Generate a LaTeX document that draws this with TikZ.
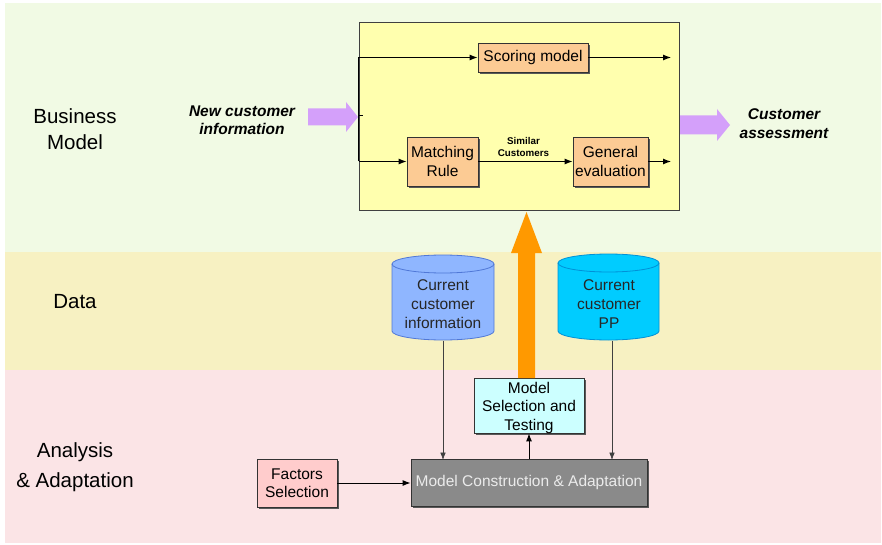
\documentclass[tikz,border=0pt]{standalone}
\usepackage{fontspec}
\setmainfont{Liberation Sans}
\usetikzlibrary{arrows.meta,shadows}

\definecolor{bandgreen}{RGB}{241,250,228}
\definecolor{bandyellow}{RGB}{247,241,194}
\definecolor{bandpink}{RGB}{251,228,230}
\definecolor{mainyellow}{RGB}{255,255,174}
\definecolor{procorange}{RGB}{252,203,148}
\definecolor{flowpurple}{RGB}{212,160,250}
\definecolor{feedorange}{RGB}{255,153,0}
\definecolor{cylblue}{RGB}{143,182,255}
\definecolor{cylblueline}{RGB}{80,120,215}
\definecolor{cylcyan}{RGB}{0,204,255}
\definecolor{cylcyanline}{RGB}{0,145,215}
\definecolor{selcyan}{RGB}{204,255,255}
\definecolor{factpink}{RGB}{255,204,204}
\definecolor{constgray}{RGB}{138,138,138}

\newcommand\bxfont{\fontsize{15.5}{18.5}\selectfont}
\newcommand\lanefont{\fontsize{20.5}{26}\selectfont}

\tikzset{
  procbox/.style={draw=black!80, line width=0.8pt, inner sep=0pt, align=center,
    font=\bxfont, drop shadow={shadow xshift=1.6pt, shadow yshift=-1.6pt,
    fill=black!65, opacity=1}},
  flow/.style={-{Latex[length=8pt,width=6pt]}, line width=1pt},
  feed/.style={-{Latex[length=7.5pt,width=5.5pt]}, line width=0.7pt, draw=black!75},
  lane/.style={font=\lanefont, align=center},
  ioText/.style={font=\bxfont\bfseries\itshape, align=center},
  cylframe/.style={inner sep=0pt, minimum width=102pt, minimum height=86pt},
  cyltext/.style={font=\fontsize{15.5}{19}\selectfont, align=center, text=black!85}
}

\begin{document}
\begin{tikzpicture}[x=1pt,y=-1pt]
\useasboundingbox (0,0) rectangle (882,545);
\fill[white] (0,0) rectangle (882,545);

% swim lanes
\fill[bandgreen] (5,3) rectangle (881,252);
\fill[bandyellow] (5,252) rectangle (881,370);
\fill[bandpink] (5,370) rectangle (881,543);

\node[lane] (lbm) at (75,129) {Business\\Model};
\node[lane] (ldata) at (75,302) {Data};
\node[lane] (laa) at (75,467) {Analysis\\[4pt]\& Adaptation};

% business model block
\node[draw=black!75, fill=mainyellow, line width=0.8pt, inner sep=0pt,
      minimum width=320pt, minimum height=188pt] (main) at (519,116) {};

\node[procbox, fill=procorange, minimum width=110pt, minimum height=29pt] (score) at (533,57.5) {Scoring model};
\node[procbox, fill=procorange, minimum width=71pt, minimum height=49pt] (match) at (442.5,161.5) {Matching\\Rule};
\node[procbox, fill=procorange, minimum width=75pt, minimum height=49pt] (geval) at (610.5,161.5) {General\\evaluation};

\coordinate (sout) at (671,57.5);
\coordinate (gout) at (671,161.5);

\draw[line width=1pt] (main.west |- score.west) -- (main.west |- match.west);
\draw[line width=1pt] (main.west) -- ++(4,0);
\draw[flow] (main.west |- score.west) -- (score.west);
\draw[flow] (score.east) -- (sout);
\draw[flow] (main.west |- match.west) -- (match.west);
\draw[flow] (match.east) -- node[above=1pt, xshift=-2pt, font=\fontsize{9.8}{12.5}\selectfont\bfseries, align=center] {Similar\\Customers} (geval.west);
\draw[flow] (geval.east) -- (gout);

% input and output
\node[ioText] (newinfo) at (242,120) {New customer\\information};
\node[ioText] (assess) at (784,123.5) {Customer\\assessment};
\fill[flowpurple] (308,108.5) -- (346,108.5) -- (346,102) -- (358,117)
  -- (346,132) -- (346,125.5) -- (308,125.5) -- cycle;
\fill[flowpurple] (680,115.5) -- (717,115.5) -- (717,109) -- (730,125)
  -- (717,141) -- (717,134.5) -- (680,134.5) -- cycle;

% data stores
\path[fill=cylblue, draw=cylblueline, line width=0.8pt]
  (392,264) -- (392,331) arc[start angle=180, end angle=360, x radius=51pt, y radius=9pt]
  -- (494,264) arc[start angle=0, end angle=180, x radius=51pt, y radius=9pt] -- cycle;
\draw[cylblueline, line width=0.8pt] (392,264) arc[start angle=180, end angle=360, x radius=51pt, y radius=9pt];
\node[cylframe] (cinfo) at (443,297.5) {};
\node[cyltext] (cinfotxt) at (443,304.5) {Current\\customer\\information};

\path[fill=cylcyan, draw=cylcyanline, line width=0.8pt]
  (558,263) -- (558,331) arc[start angle=180, end angle=360, x radius=50.5pt, y radius=9pt]
  -- (659,263) arc[start angle=0, end angle=180, x radius=50.5pt, y radius=9pt] -- cycle;
\draw[cylcyanline, line width=0.8pt] (558,263) arc[start angle=180, end angle=360, x radius=50.5pt, y radius=9pt];
\node[cylframe] (cpp) at (608.5,297.5) {};
\node[cyltext] (cpptxt) at (609,304.5) {Current\\customer\\PP};

% analysis & adaptation
\node[procbox, fill=selcyan, minimum width=110pt, minimum height=55pt] (msel) at (529,405.5) {};
\node[font=\fontsize{15.5}{18.5}\selectfont, align=center, inner sep=0pt] (mseltxt) at (529,407.5) {Model\\Selection and\\Testing};
\node[procbox, fill=constgray, text=black!8, minimum width=236pt, minimum height=47pt] (mcon) at (529,482.5) {Model Construction \& Adaptation};
\node[procbox, fill=factpink, minimum width=80pt, minimum height=48pt] (fsel) at (297,483) {Factors\\Selection};

% feedback from testing up to the business model
\fill[feedorange] (518,378) -- (518,253) -- (511,253) -- (526.5,212) -- (542,253)
  -- (535,253) -- (535,378) -- cycle;

% data feeds into model construction
\coordinate (cinfoout) at (cinfo.south);
\coordinate (cppout) at ([xshift=3.5pt]cpp.south);
\coordinate (cinfoin) at ([yshift=-1.5pt]cinfoout |- mcon.north);
\coordinate (cppin) at ([yshift=-1.5pt]cppout |- mcon.north);
\draw[feed] (cinfoout) -- (cinfoin);
\draw[feed] (cppout) -- (cppin);
\draw[flow] (fsel.east) -- (fsel.east -| mcon.west);
\draw[flow] (mcon.north) -- (msel.south);
\end{tikzpicture}
\end{document}
